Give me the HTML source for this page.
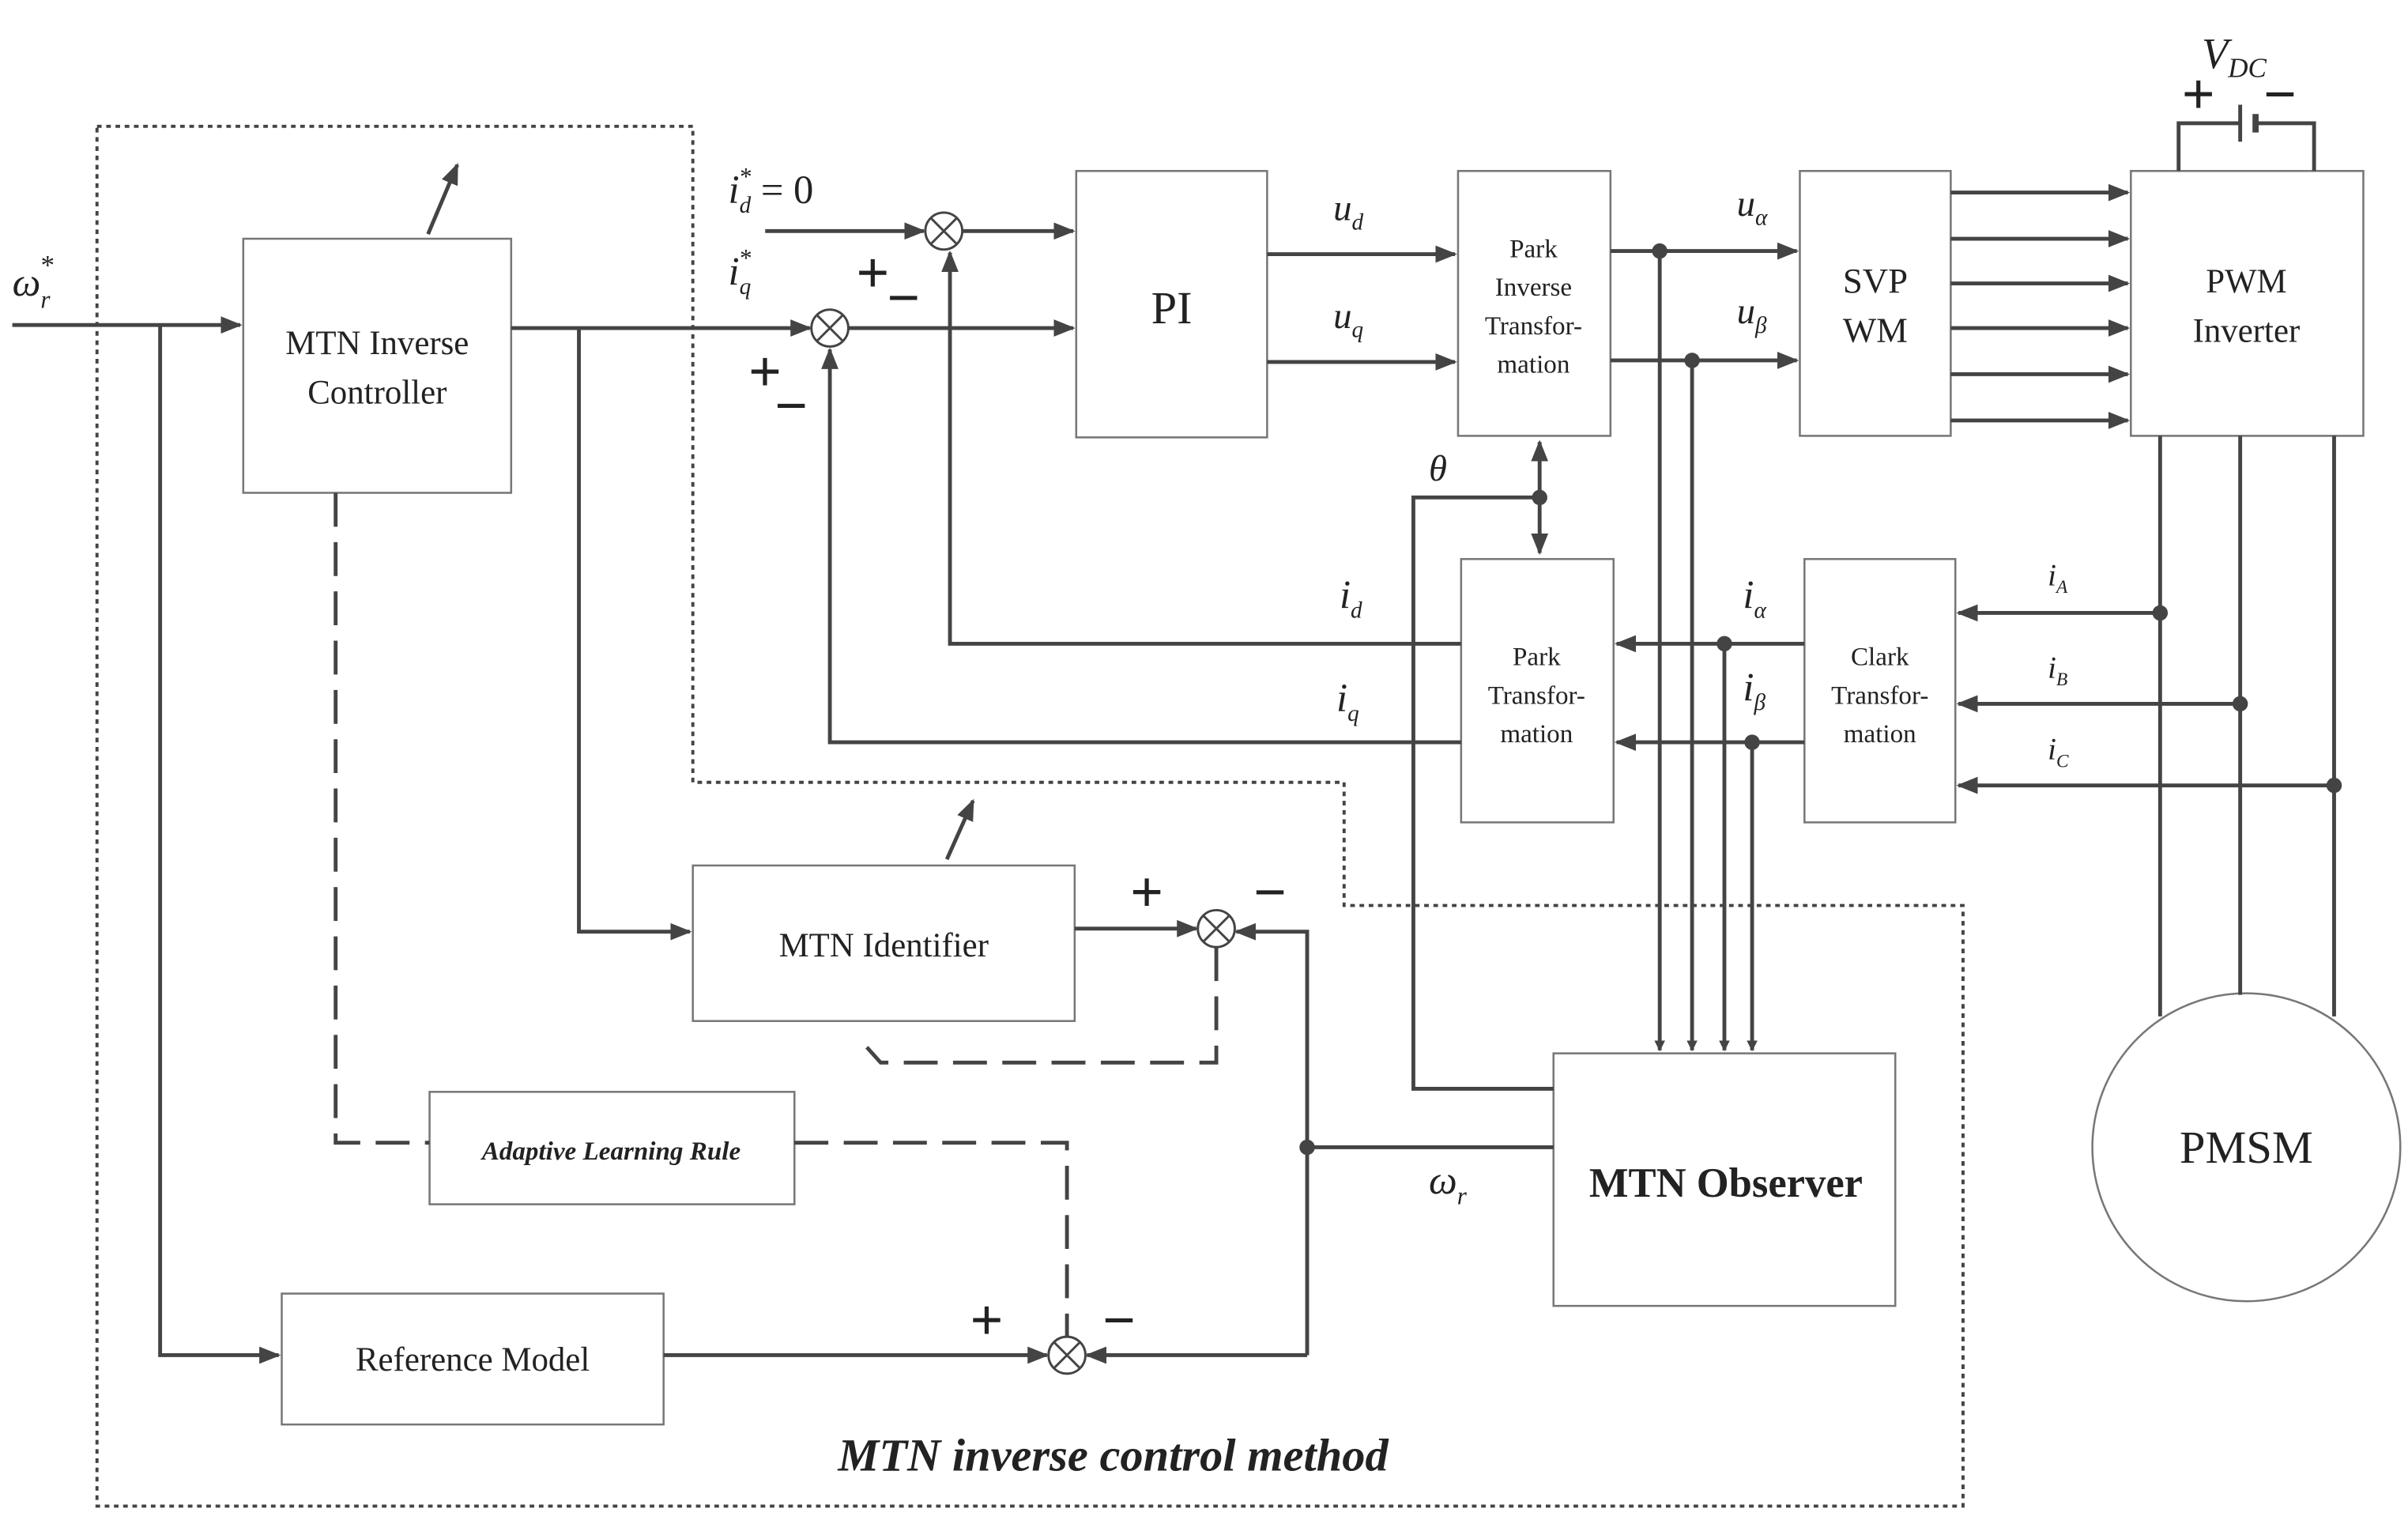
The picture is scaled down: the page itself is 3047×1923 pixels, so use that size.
<!DOCTYPE html>
<html><head><meta charset="utf-8"><style>
html,body{margin:0;padding:0;background:#fff;}
svg{display:block;}
text{font-family:"Liberation Serif",serif;fill:#222;}
</style></head><body>
<svg width="3047" height="1923" viewBox="0 0 1564 987" xmlns="http://www.w3.org/2000/svg">
<defs>
<marker id="a" viewBox="0 0 10 10" refX="9" refY="5" markerWidth="7" markerHeight="7" orient="auto-start-reverse" markerUnits="userSpaceOnUse">
<path d="M0,0 L10,5 L0,10 z" fill="#444"/></marker>
<marker id="b" viewBox="0 0 10 10" refX="9" refY="5" markerWidth="14" markerHeight="14" orient="auto-start-reverse" markerUnits="userSpaceOnUse">
<path d="M0,1 L10,5 L0,9 z" fill="#444"/></marker>
</defs>
<rect width="1564" height="987" fill="#fff"/>
<path d="M63,82 H450 V508 H873 V588 H1275 V978 H63 Z" fill="none" stroke="#444" stroke-width="2" stroke-dasharray="3,3"/>
<g fill="#fff" stroke="#777" stroke-width="1.3">
<rect x="158" y="155" width="174" height="165"/>
<rect x="699" y="111" width="124" height="173"/>
<rect x="947" y="111" width="99" height="172"/>
<rect x="1169" y="111" width="98" height="172"/>
<rect x="1384" y="111" width="151" height="172"/>
<rect x="949" y="363" width="99" height="171"/>
<rect x="1172" y="363" width="98" height="171"/>
<rect x="450" y="562" width="248" height="101"/>
<rect x="279" y="709" width="237" height="73"/>
<rect x="183" y="840" width="248" height="85"/>
<rect x="1009" y="684" width="222" height="164"/>
<circle cx="1459" cy="745" r="100"/>
</g>
<g fill="none" stroke="#444" stroke-width="2.5">
<path d="M8,211 H156" marker-end="url(#b)"/>
<path d="M104,211 V880 H181" marker-end="url(#b)"/>
<path d="M332,213 H526" marker-end="url(#b)"/>
<path d="M376,213 V605 H448" marker-end="url(#b)"/>
<path d="M497,150 H600" marker-end="url(#b)"/>
<path d="M625,150 H697" marker-end="url(#b)"/>
<path d="M551,213 H697" marker-end="url(#b)"/>
<path d="M823,165 H945" marker-end="url(#b)"/>
<path d="M823,235 H945" marker-end="url(#b)"/>
<path d="M1046,163 H1167" marker-end="url(#b)"/>
<path d="M1046,234 H1167" marker-end="url(#b)"/>
<path d="M1267,125 H1382" marker-end="url(#b)"/>
<path d="M1267,155 H1382" marker-end="url(#b)"/>
<path d="M1267,184 H1382" marker-end="url(#b)"/>
<path d="M1267,213 H1382" marker-end="url(#b)"/>
<path d="M1267,243 H1382" marker-end="url(#b)"/>
<path d="M1267,273 H1382" marker-end="url(#b)"/>
<path d="M1415,111 V80 H1455 M1465,80 H1503 V111"/>
<path d="M1403,283 V660 M1455,283 V646 M1516,283 V660"/>
<path d="M1403,398 H1272" marker-end="url(#b)"/>
<path d="M1455,457 H1272" marker-end="url(#b)"/>
<path d="M1516,510 H1272" marker-end="url(#b)"/>
<path d="M1172,418 H1050" marker-end="url(#b)"/>
<path d="M1172,482 H1050" marker-end="url(#b)"/>
<path d="M949,418 H617 V164" marker-end="url(#b)"/>
<path d="M949,482 H539 V227" marker-end="url(#b)"/>
<path d="M1000,323 H918 V707 H1009"/>
<path d="M1000,287 V359" marker-start="url(#b)" marker-end="url(#b)"/>
<path d="M1078,163 V682" marker-end="url(#a)"/>
<path d="M1099,234 V682" marker-end="url(#a)"/>
<path d="M1120,418 V682" marker-end="url(#a)"/>
<path d="M1138,482 V682" marker-end="url(#a)"/>
<path d="M1009,745 H849"/>
<path d="M849,880 V605 H803" marker-end="url(#b)"/>
<path d="M849,880 H706" marker-end="url(#b)"/>
<path d="M698,603 H777" marker-end="url(#b)"/>
<path d="M431,880 H680" marker-end="url(#b)"/>
<path d="M278,152 L297,107" marker-end="url(#b)"/>
<path d="M615,558 L632,520" marker-end="url(#b)"/>
</g>
<line x1="1455" y1="68" x2="1455" y2="92" stroke="#444" stroke-width="2.5"/>
<line x1="1465" y1="74" x2="1465" y2="86" stroke="#444" stroke-width="4"/>
<g fill="none" stroke="#444" stroke-width="2.5" stroke-dasharray="22,10">
<path d="M218,320 V742 H279"/>
<path d="M516,742 H693 V868"/>
<path d="M790,615 V690 H572 L563,680"/>
</g>
<g fill="#444">
<circle cx="1078" cy="163" r="5"/><circle cx="1099" cy="234" r="5"/>
<circle cx="1120" cy="418" r="5"/><circle cx="1138" cy="482" r="5"/>
<circle cx="1000" cy="323" r="5"/><circle cx="849" cy="745" r="5"/>
<circle cx="1403" cy="398" r="5"/><circle cx="1455" cy="457" r="5"/><circle cx="1516" cy="510" r="5"/>
</g>
<g fill="#fff" stroke="#444" stroke-width="1.5">
<circle cx="613" cy="150" r="12"/><circle cx="539" cy="213" r="12"/>
<circle cx="790" cy="603" r="12"/><circle cx="693" cy="880" r="12"/>
</g>
<g stroke="#444" stroke-width="1.5">
<path d="M605,142 L621,158 M621,142 L605,158"/><path d="M531,205 L547,221 M547,205 L531,221"/>
<path d="M782,595 L798,611 M798,595 L782,611"/><path d="M685,872 L701,888 M701,872 L685,888"/>
</g>
<g text-anchor="middle" font-size="22">
<text x="245" y="230">MTN Inverse</text><text x="245" y="262">Controller</text>
<text x="761" y="210" font-size="30">PI</text>
<text x="996" y="167" font-size="17">Park</text><text x="996" y="192" font-size="17">Inverse</text>
<text x="996" y="217" font-size="17">Transfor-</text><text x="996" y="242" font-size="17">mation</text>
<text x="1218" y="190" font-size="23">SVP</text><text x="1218" y="222" font-size="23">WM</text>
<text x="1459" y="190">PWM</text><text x="1459" y="222">Inverter</text>
<text x="998" y="432" font-size="17">Park</text><text x="998" y="457" font-size="17">Transfor-</text><text x="998" y="482" font-size="17">mation</text>
<text x="1221" y="432" font-size="17">Clark</text><text x="1221" y="457" font-size="17">Transfor-</text><text x="1221" y="482" font-size="17">mation</text>
<text x="574" y="621">MTN Identifier</text>
<text x="397" y="753" font-size="17" font-style="italic" font-weight="bold">Adaptive Learning Rule</text>
<text x="307" y="890">Reference Model</text>
<text x="1121" y="777" font-size="27" font-weight="bold">MTN Observer</text>
<text x="1459" y="755" font-size="30">PMSM</text>
<text x="723" y="955" font-size="30" font-style="italic" font-weight="bold">MTN inverse control method</text>
</g>
<g font-style="italic" font-size="26">
<text x="8" y="192">ω<tspan font-size="16" dy="8">r</tspan><tspan font-size="18" dy="-22" dx="-7">*</tspan></text>
<text x="473" y="132">i<tspan font-size="15" dy="6">d</tspan><tspan font-size="16" dy="-18" dx="-8">*</tspan><tspan font-style="normal" dy="12"> = 0</tspan></text>
<text x="473" y="185">i<tspan font-size="15" dy="6">q</tspan><tspan font-size="16" dy="-18" dx="-8">*</tspan></text>
<text x="866" y="143" font-size="24">u<tspan font-size="15" dy="6">d</tspan></text>
<text x="866" y="213" font-size="24">u<tspan font-size="15" dy="6">q</tspan></text>
<text x="1128" y="140" font-size="24">u<tspan font-size="15" dy="6">α</tspan></text>
<text x="1128" y="210" font-size="24">u<tspan font-size="15" dy="6">β</tspan></text>
<text x="928" y="312" font-size="24">θ</text>
<text x="870" y="395">i<tspan font-size="15" dy="6">d</tspan></text>
<text x="868" y="462">i<tspan font-size="15" dy="6">q</tspan></text>
<text x="1132" y="395">i<tspan font-size="15" dy="6">α</tspan></text>
<text x="1132" y="455">i<tspan font-size="15" dy="6">β</tspan></text>
<text x="1330" y="380" font-size="20">i<tspan font-size="12" dy="5">A</tspan></text>
<text x="1330" y="440" font-size="20">i<tspan font-size="12" dy="5">B</tspan></text>
<text x="1330" y="493" font-size="20">i<tspan font-size="12" dy="5">C</tspan></text>
<text x="1430" y="44" font-size="28">V<tspan font-size="18" dy="6">DC</tspan></text>
<text x="928" y="775">ω<tspan font-size="16" dy="7">r</tspan></text>
</g>
<g font-family="Liberation Sans" font-weight="bold" font-size="38" fill="#222">
<text x="556" y="190">+</text><text x="576" y="206">−</text>
<text x="486" y="254">+</text><text x="503" y="276">−</text>
<text x="734" y="592">+</text><text x="814" y="592">−</text>
<text x="630" y="870">+</text><text x="716" y="870">−</text>
<text x="1417" y="74">+</text><text x="1470" y="74">−</text>
</g>
</svg>
</body></html>
